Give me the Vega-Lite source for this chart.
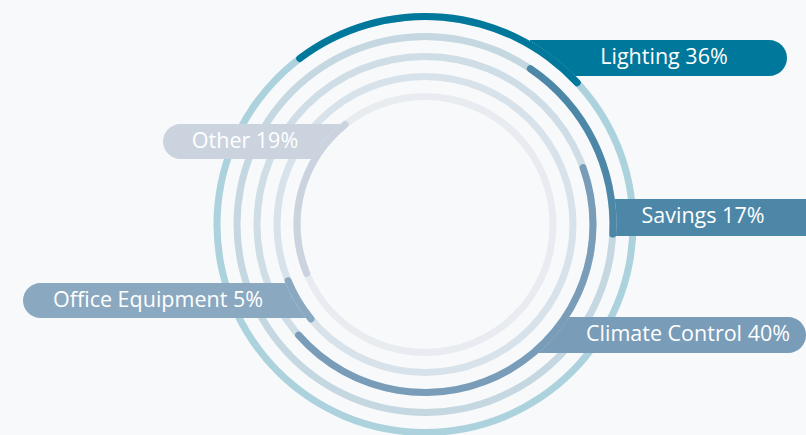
{
  "$schema": "https://vega.github.io/schema/vega-lite/v6.json",
  "width": 806,
  "height": 435,
  "padding": 0,
  "autosize": {"type": "none"},
  "background": "#f7f9fa",
  "config": {"view": {"stroke": null}},
  "data": {
    "values": [
      {"name": "Lighting", "label": "Lighting 36%", "ring": 5, "start": -38, "end": 48, "x0": 530, "x1": 787, "y0": 40, "y1": 76, "tx": 664, "ty": 58},
      {"name": "Savings", "label": "Savings 17%", "ring": 4, "start": 33, "end": 94, "x0": 590, "x1": 830, "y0": 199, "y1": 236, "tx": 703, "ty": 217},
      {"name": "Climate Control", "label": "Climate Control 40%", "ring": 3, "start": 69, "end": 230, "x0": 500, "x1": 806, "y0": 317, "y1": 353, "tx": 688, "ty": 335},
      {"name": "Office Equipment", "label": "Office Equipment 5%", "ring": 2, "start": 229, "end": 249, "x0": 23, "x1": 330, "y0": 283, "y1": 318, "tx": 158, "ty": 301},
      {"name": "Other", "label": "Other 19%", "ring": 1, "start": 246, "end": 323, "x0": 163, "x1": 350, "y0": 124, "y1": 159, "tx": 245, "ty": 142}
    ]
  },
  "layer": [
    {"transform": [{"filter": "datum.name === 'Lighting'"}],
     "mark": {"type": "rect", "cornerRadiusTopRight": 18, "cornerRadiusBottomRight": 18},
     "encoding": {
       "x": {"field": "x0", "type": "quantitative", "scale": {"domain": [0, 806], "nice": false, "zero": false}, "axis": null},
       "x2": {"field": "x1"},
       "y": {"field": "y0", "type": "quantitative", "scale": {"domain": [0, 435], "nice": false, "zero": false, "reverse": true}, "axis": null},
       "y2": {"field": "y1"},
       "color": {"field": "name", "type": "nominal", "scale": {"domain": ["Lighting", "Savings", "Climate Control", "Office Equipment", "Other"], "range": ["#00789b", "#4d87a8", "#799cb8", "#8aa9c1", "#cbd3df"]}, "legend": null}
     }},
    {"transform": [{"filter": "datum.name === 'Lighting'"}],
     "mark": {"type": "arc", "color": "#f7f9fa", "radius2Offset": -128},
     "encoding": {
       "x": {"datum": 425, "type": "quantitative"}, "y": {"datum": 224.5, "type": "quantitative"},
       "theta": {"datum": 0, "type": "quantitative", "scale": {"domain": [0, 360], "range": [0, 6.283185307179586]}},
       "theta2": {"datum": 360},
       "radius": {"field": "ring", "type": "quantitative", "scale": {"type": "linear", "domain": [1, 5], "range": [128, 208]}},
       "radius2": {"field": "ring"}
     }},
    {"transform": [{"filter": "datum.name === 'Lighting'"}],
     "mark": {"type": "arc", "radiusOffset": 3.5, "radius2Offset": -3.5},
     "encoding": {
       "x": {"datum": 425, "type": "quantitative"}, "y": {"datum": 224.5, "type": "quantitative"},
       "theta": {"datum": 0, "type": "quantitative"}, "theta2": {"datum": 360},
       "radius": {"field": "ring", "type": "quantitative"}, "radius2": {"field": "ring"},
       "fill": {"field": "name", "type": "nominal", "scale": {"domain": ["Lighting", "Savings", "Climate Control", "Office Equipment", "Other"], "range": ["#acd3dd", "#c5d8e1", "#cfdde6", "#d8e2ea", "#e8ecf1"]}, "legend": null}
     }},
    {"transform": [{"filter": "datum.name === 'Lighting'"}],
     "mark": {"type": "arc", "radiusOffset": 3.5, "radius2Offset": -3.5, "cornerRadius": 3.5},
     "encoding": {
       "x": {"datum": 425, "type": "quantitative"}, "y": {"datum": 224.5, "type": "quantitative"},
       "theta": {"field": "start", "type": "quantitative"}, "theta2": {"field": "end"},
       "radius": {"field": "ring", "type": "quantitative"}, "radius2": {"field": "ring"},
       "color": {"field": "name", "type": "nominal", "legend": null}
     }},

    {"transform": [{"filter": "datum.name === 'Savings'"}],
     "mark": {"type": "rect"},
     "encoding": {
       "x": {"field": "x0", "type": "quantitative"}, "x2": {"field": "x1"},
       "y": {"field": "y0", "type": "quantitative"}, "y2": {"field": "y1"},
       "color": {"field": "name", "type": "nominal", "legend": null}
     }},
    {"transform": [{"filter": "datum.name === 'Savings'"}],
     "mark": {"type": "arc", "color": "#f7f9fa", "radius2Offset": -128},
     "encoding": {
       "x": {"datum": 425, "type": "quantitative"}, "y": {"datum": 224.5, "type": "quantitative"},
       "theta": {"datum": 0, "type": "quantitative"}, "theta2": {"datum": 360},
       "radius": {"field": "ring", "type": "quantitative"}, "radius2": {"field": "ring"}
     }},
    {"transform": [{"filter": "datum.name === 'Savings'"}],
     "mark": {"type": "arc", "radiusOffset": 3.5, "radius2Offset": -3.5},
     "encoding": {
       "x": {"datum": 425, "type": "quantitative"}, "y": {"datum": 224.5, "type": "quantitative"},
       "theta": {"datum": 0, "type": "quantitative"}, "theta2": {"datum": 360},
       "radius": {"field": "ring", "type": "quantitative"}, "radius2": {"field": "ring"},
       "fill": {"field": "name", "type": "nominal", "legend": null}
     }},
    {"transform": [{"filter": "datum.name === 'Savings'"}],
     "mark": {"type": "arc", "radiusOffset": 3.5, "radius2Offset": -3.5, "cornerRadius": 3.5},
     "encoding": {
       "x": {"datum": 425, "type": "quantitative"}, "y": {"datum": 224.5, "type": "quantitative"},
       "theta": {"field": "start", "type": "quantitative"}, "theta2": {"field": "end"},
       "radius": {"field": "ring", "type": "quantitative"}, "radius2": {"field": "ring"},
       "color": {"field": "name", "type": "nominal", "legend": null}
     }},

    {"transform": [{"filter": "datum.name === 'Climate Control'"}],
     "mark": {"type": "rect", "cornerRadiusTopRight": 18, "cornerRadiusBottomRight": 18},
     "encoding": {
       "x": {"field": "x0", "type": "quantitative"}, "x2": {"field": "x1"},
       "y": {"field": "y0", "type": "quantitative"}, "y2": {"field": "y1"},
       "color": {"field": "name", "type": "nominal", "legend": null}
     }},
    {"transform": [{"filter": "datum.name === 'Climate Control'"}],
     "mark": {"type": "arc", "color": "#f7f9fa", "radius2Offset": -128},
     "encoding": {
       "x": {"datum": 425, "type": "quantitative"}, "y": {"datum": 224.5, "type": "quantitative"},
       "theta": {"datum": 0, "type": "quantitative"}, "theta2": {"datum": 360},
       "radius": {"field": "ring", "type": "quantitative"}, "radius2": {"field": "ring"}
     }},
    {"transform": [{"filter": "datum.name === 'Climate Control'"}],
     "mark": {"type": "arc", "radiusOffset": 3.5, "radius2Offset": -3.5},
     "encoding": {
       "x": {"datum": 425, "type": "quantitative"}, "y": {"datum": 224.5, "type": "quantitative"},
       "theta": {"datum": 0, "type": "quantitative"}, "theta2": {"datum": 360},
       "radius": {"field": "ring", "type": "quantitative"}, "radius2": {"field": "ring"},
       "fill": {"field": "name", "type": "nominal", "legend": null}
     }},
    {"transform": [{"filter": "datum.name === 'Climate Control'"}],
     "mark": {"type": "arc", "radiusOffset": 3.5, "radius2Offset": -3.5, "cornerRadius": 3.5},
     "encoding": {
       "x": {"datum": 425, "type": "quantitative"}, "y": {"datum": 224.5, "type": "quantitative"},
       "theta": {"field": "start", "type": "quantitative"}, "theta2": {"field": "end"},
       "radius": {"field": "ring", "type": "quantitative"}, "radius2": {"field": "ring"},
       "color": {"field": "name", "type": "nominal", "legend": null}
     }},

    {"transform": [{"filter": "datum.name === 'Office Equipment'"}],
     "mark": {"type": "rect", "cornerRadiusTopLeft": 17.5, "cornerRadiusBottomLeft": 17.5},
     "encoding": {
       "x": {"field": "x0", "type": "quantitative"}, "x2": {"field": "x1"},
       "y": {"field": "y0", "type": "quantitative"}, "y2": {"field": "y1"},
       "color": {"field": "name", "type": "nominal", "legend": null}
     }},
    {"transform": [{"filter": "datum.name === 'Office Equipment'"}],
     "mark": {"type": "arc", "color": "#f7f9fa", "radius2Offset": -128},
     "encoding": {
       "x": {"datum": 425, "type": "quantitative"}, "y": {"datum": 224.5, "type": "quantitative"},
       "theta": {"datum": 0, "type": "quantitative"}, "theta2": {"datum": 360},
       "radius": {"field": "ring", "type": "quantitative"}, "radius2": {"field": "ring"}
     }},
    {"transform": [{"filter": "datum.name === 'Office Equipment'"}],
     "mark": {"type": "arc", "radiusOffset": 3.5, "radius2Offset": -3.5},
     "encoding": {
       "x": {"datum": 425, "type": "quantitative"}, "y": {"datum": 224.5, "type": "quantitative"},
       "theta": {"datum": 0, "type": "quantitative"}, "theta2": {"datum": 360},
       "radius": {"field": "ring", "type": "quantitative"}, "radius2": {"field": "ring"},
       "fill": {"field": "name", "type": "nominal", "legend": null}
     }},
    {"transform": [{"filter": "datum.name === 'Office Equipment'"}],
     "mark": {"type": "arc", "radiusOffset": 3.5, "radius2Offset": -3.5, "cornerRadius": 3.5},
     "encoding": {
       "x": {"datum": 425, "type": "quantitative"}, "y": {"datum": 224.5, "type": "quantitative"},
       "theta": {"field": "start", "type": "quantitative"}, "theta2": {"field": "end"},
       "radius": {"field": "ring", "type": "quantitative"}, "radius2": {"field": "ring"},
       "color": {"field": "name", "type": "nominal", "legend": null}
     }},

    {"transform": [{"filter": "datum.name === 'Other'"}],
     "mark": {"type": "rect", "cornerRadiusTopLeft": 17.5, "cornerRadiusBottomLeft": 17.5},
     "encoding": {
       "x": {"field": "x0", "type": "quantitative"}, "x2": {"field": "x1"},
       "y": {"field": "y0", "type": "quantitative"}, "y2": {"field": "y1"},
       "color": {"field": "name", "type": "nominal", "legend": null}
     }},
    {"transform": [{"filter": "datum.name === 'Other'"}],
     "mark": {"type": "arc", "color": "#f7f9fa", "radius2Offset": -128},
     "encoding": {
       "x": {"datum": 425, "type": "quantitative"}, "y": {"datum": 224.5, "type": "quantitative"},
       "theta": {"datum": 0, "type": "quantitative"}, "theta2": {"datum": 360},
       "radius": {"field": "ring", "type": "quantitative"}, "radius2": {"field": "ring"}
     }},
    {"transform": [{"filter": "datum.name === 'Other'"}],
     "mark": {"type": "arc", "radiusOffset": 3.5, "radius2Offset": -3.5},
     "encoding": {
       "x": {"datum": 425, "type": "quantitative"}, "y": {"datum": 224.5, "type": "quantitative"},
       "theta": {"datum": 0, "type": "quantitative"}, "theta2": {"datum": 360},
       "radius": {"field": "ring", "type": "quantitative"}, "radius2": {"field": "ring"},
       "fill": {"field": "name", "type": "nominal", "legend": null}
     }},
    {"transform": [{"filter": "datum.name === 'Other'"}],
     "mark": {"type": "arc", "radiusOffset": 3.5, "radius2Offset": -3.5, "cornerRadius": 3.5},
     "encoding": {
       "x": {"datum": 425, "type": "quantitative"}, "y": {"datum": 224.5, "type": "quantitative"},
       "theta": {"field": "start", "type": "quantitative"}, "theta2": {"field": "end"},
       "radius": {"field": "ring", "type": "quantitative"}, "radius2": {"field": "ring"},
       "color": {"field": "name", "type": "nominal", "legend": null}
     }},

    {"mark": {"type": "text", "font": "Open Sans", "fontSize": 21.5, "color": "#ffffff", "align": "center", "baseline": "middle"},
     "encoding": {
       "x": {"field": "tx", "type": "quantitative"},
       "y": {"field": "ty", "type": "quantitative"},
       "text": {"field": "label"}
     }}
  ]
}
